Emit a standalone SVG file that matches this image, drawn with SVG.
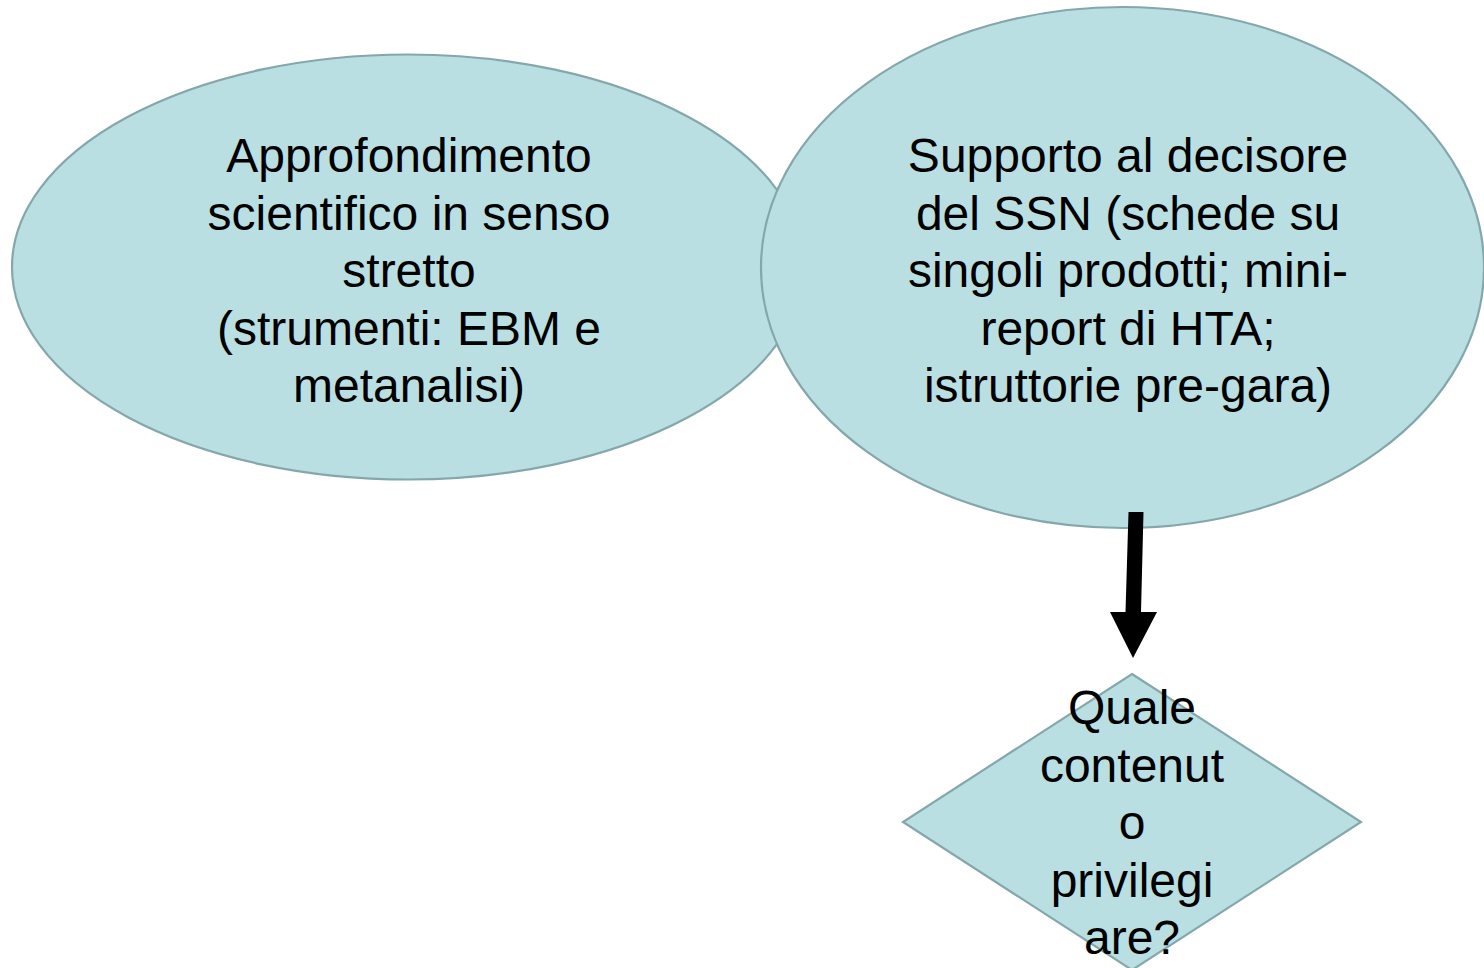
<svg xmlns="http://www.w3.org/2000/svg" width="1484" height="968" viewBox="0 0 1484 968">
  <style>
    .shape { fill: #b9dfe3; stroke: #85a7ab; stroke-width: 2.2; }
    .label { font-family: "Liberation Sans", Arial, sans-serif; font-size: 48px; fill: #000; text-anchor: middle; }
  </style>
  <rect width="1484" height="968" fill="#ffffff"/>

  <!-- left oval -->
  <g id="node-approfondimento">
    <ellipse class="shape" cx="408" cy="267" rx="396" ry="212.5"/>
    <text class="label"><tspan x="409" y="172">Approfondimento</tspan><tspan x="409" y="229.5">scientifico in senso</tspan><tspan x="409" y="287">stretto</tspan><tspan x="409" y="344.5">(strumenti: EBM e</tspan><tspan x="409" y="402">metanalisi)</tspan></text>
  </g>

  <!-- right oval, drawn over the left one -->
  <g id="node-supporto">
    <ellipse class="shape" cx="1122.5" cy="267.5" rx="361.5" ry="260.5"/>
    <text class="label"><tspan x="1128" y="172">Supporto al decisore</tspan><tspan x="1128" y="229.5">del SSN (schede su</tspan><tspan x="1128" y="287">singoli prodotti; mini-</tspan><tspan x="1128" y="344.5">report di HTA;</tspan><tspan x="1128" y="402">istruttorie pre-gara)</tspan></text>
  </g>

  <!-- decision diamond -->
  <g id="node-quale">
    <polygon class="shape" points="1132,674 1361,822 1132,970 903,822"/>
    <text class="label"><tspan x="1132" y="724">Quale</tspan><tspan x="1132" y="781.5">contenut</tspan><tspan x="1132" y="839">o</tspan><tspan x="1132" y="896.5">privilegi</tspan><tspan x="1132" y="954">are?</tspan></text>
  </g>

  <!-- connectors -->
  <g id="connectors">
    <polygon fill="#000" points="1128.5,512 1143.5,512 1141,612 1157,612 1133,658 1110,612 1125.5,612"/>
  </g>
</svg>
